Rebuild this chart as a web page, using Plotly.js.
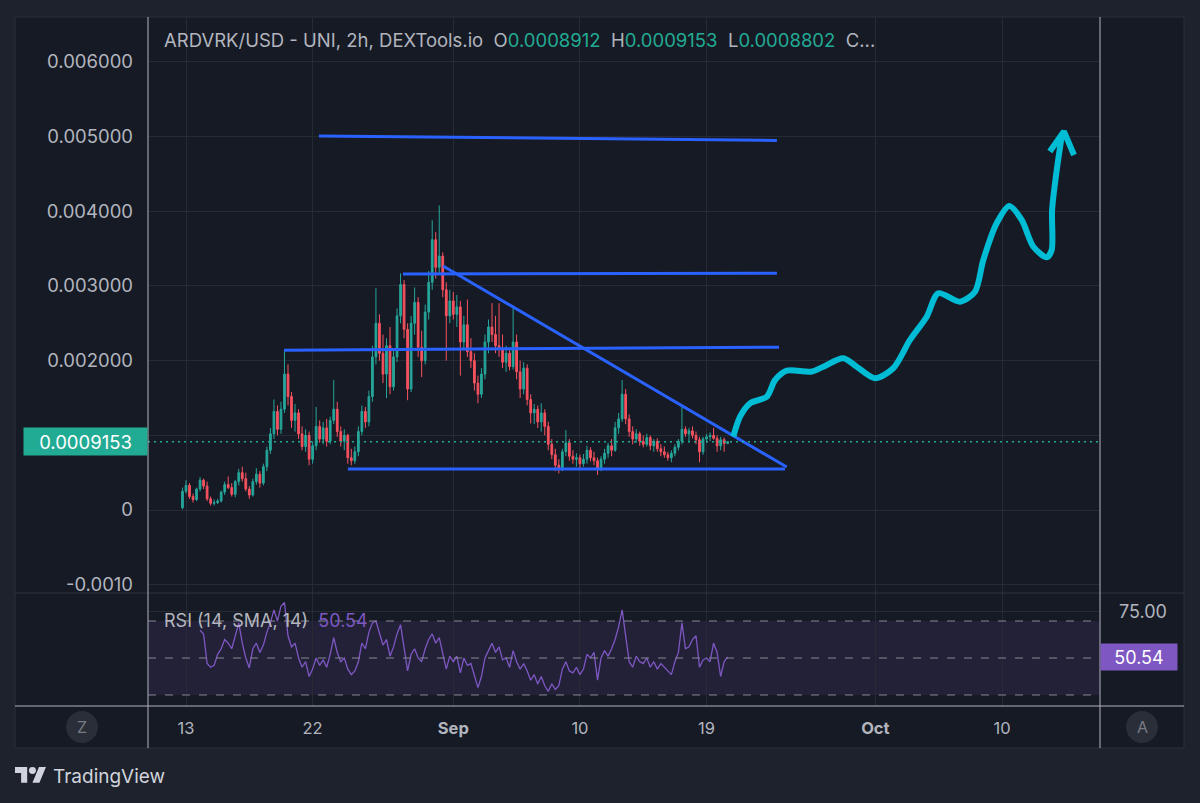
<!DOCTYPE html>
<html><head><meta charset="utf-8">
<script src="https://cdn.plot.ly/plotly-3.0.1.min.js"></script>
<style>html,body{margin:0;padding:0;background:#1e222d;overflow:hidden}#chart{width:1200px;height:803px}</style>
</head><body><div id="chart"></div>
<script>
// ---------- DATA ----------
// 6h candles, first candle Aug 12 18:00 (day offset -0.25 from Aug 13, 2024)
const candleFirstDay = -0.25;
const candleStepDays = 0.25;
const openPrices = [
0.00003,0.00025,0.00033,0.00018,0.00014,0.00028,0.00040,0.00032,0.00015,0.00009,
0.00010,0.00012,0.00024,0.00034,0.00030,0.00021,0.00038,0.00050,0.00042,0.00028,
0.00020,0.00038,0.00048,0.00036,0.00058,0.00080,0.00102,0.00132,0.00108,0.00135,
0.00182,0.00152,0.00120,0.00130,0.00102,0.00085,0.00100,0.00068,0.00086,0.00112,
0.00095,0.00110,0.00092,0.00120,0.00135,0.00105,0.00092,0.00100,0.00070,0.00066,
0.00078,0.00105,0.00132,0.00118,0.00152,0.00205,0.00250,0.00210,0.00182,0.00220,
0.00165,0.00205,0.00260,0.00302,0.00242,0.00162,0.00250,0.00278,0.00218,0.00200,
0.00265,0.00305,0.00362,0.00325,0.00340,0.00295,0.00260,0.00280,0.00262,0.00272,
0.00225,0.00248,0.00212,0.00200,0.00170,0.00155,0.00182,0.00225,0.00245,0.00235,
0.00220,0.00215,0.00198,0.00210,0.00192,0.00225,0.00185,0.00162,0.00190,0.00148,
0.00130,0.00135,0.00118,0.00130,0.00112,0.00088,0.00074,0.00060,0.00056,0.00078,
0.00090,0.00072,0.00068,0.00070,0.00062,0.00068,0.00080,0.00070,0.00066,0.00055,
0.00068,0.00076,0.00086,0.00080,0.00110,0.00122,0.00155,0.00122,0.00105,0.00095,
0.00102,0.00092,0.00088,0.00097,0.00086,0.00092,0.00082,0.00078,0.00074,0.00070,
0.00076,0.00084,0.00092,0.00108,0.00102,0.00106,0.00100,0.00094,0.00078,0.00095,
0.00098,0.00100,0.00096,0.00086,0.00094,0.0008912];
const highPrices = [
0.00030,0.00040,0.00036,0.00022,0.00030,0.00044,0.00042,0.00038,0.00018,0.00014,
0.00015,0.00026,0.00038,0.00045,0.00036,0.00040,0.00055,0.00058,0.00050,0.00032,
0.00042,0.00056,0.00052,0.00062,0.00085,0.00110,0.00148,0.00140,0.00145,0.00215,
0.00195,0.00158,0.00142,0.00135,0.00112,0.00108,0.00105,0.00092,0.00138,0.00120,
0.00118,0.00122,0.00125,0.00174,0.00145,0.00112,0.00108,0.00102,0.00082,0.00085,
0.00112,0.00140,0.00138,0.00160,0.00220,0.00297,0.00262,0.00235,0.00230,0.00245,
0.00215,0.00270,0.00317,0.00308,0.00250,0.00260,0.00298,0.00285,0.00240,0.00275,
0.00320,0.00388,0.00372,0.00408,0.00345,0.00305,0.00295,0.00292,0.00288,0.00280,
0.00260,0.00282,0.00230,0.00210,0.00180,0.00190,0.00235,0.00255,0.00277,0.00260,
0.00277,0.00235,0.00220,0.00215,0.00274,0.00235,0.00200,0.00198,0.00195,0.00155,
0.00142,0.00140,0.00143,0.00135,0.00118,0.00095,0.00082,0.00068,0.00082,0.00107,
0.00095,0.00080,0.00076,0.00074,0.00075,0.00086,0.00084,0.00078,0.00070,0.00072,
0.00082,0.00090,0.00095,0.00118,0.00130,0.00174,0.00162,0.00128,0.00112,0.00108,
0.00105,0.00100,0.00102,0.00100,0.00095,0.00096,0.00088,0.00085,0.00078,0.00080,
0.00088,0.00095,0.00138,0.00112,0.00110,0.00112,0.00105,0.00098,0.00098,0.00102,
0.00104,0.00110,0.00100,0.00098,0.00097,0.0009153];
const lowPrices = [
0.00001,0.00022,0.00015,0.00010,0.00012,0.00025,0.00028,0.00012,0.00006,0.00006,
0.00008,0.00010,0.00020,0.00028,0.00018,0.00017,0.00033,0.00038,0.00025,0.00015,
0.00018,0.00034,0.00030,0.00033,0.00052,0.00075,0.00095,0.00100,0.00102,0.00130,
0.00140,0.00110,0.00105,0.00095,0.00080,0.00078,0.00060,0.00062,0.00080,0.00090,
0.00088,0.00085,0.00088,0.00115,0.00098,0.00085,0.00080,0.00062,0.00060,0.00062,
0.00072,0.00100,0.00110,0.00112,0.00145,0.00195,0.00200,0.00170,0.00150,0.00155,
0.00160,0.00198,0.00250,0.00230,0.00147,0.00158,0.00235,0.00205,0.00178,0.00195,
0.00255,0.00295,0.00310,0.00315,0.00285,0.00200,0.00250,0.00255,0.00245,0.00180,
0.00215,0.00205,0.00190,0.00160,0.00143,0.00150,0.00175,0.00210,0.00225,0.00210,
0.00205,0.00190,0.00185,0.00187,0.00188,0.00175,0.00150,0.00155,0.00140,0.00116,
0.00115,0.00110,0.00105,0.00100,0.00080,0.00068,0.00052,0.00049,0.00052,0.00072,
0.00066,0.00062,0.00058,0.00056,0.00058,0.00062,0.00065,0.00060,0.00047,0.00052,
0.00062,0.00070,0.00072,0.00078,0.00102,0.00118,0.00115,0.00098,0.00088,0.00090,
0.00086,0.00084,0.00085,0.00080,0.00078,0.00078,0.00072,0.00070,0.00066,0.00064,
0.00072,0.00080,0.00088,0.00098,0.00092,0.00096,0.00088,0.00064,0.00074,0.00090,
0.00092,0.00094,0.00078,0.00080,0.00078,0.0008802];
const closePrices = [
0.00025,0.00033,0.00018,0.00014,0.00028,0.00040,0.00032,0.00015,0.00009,0.00010,
0.00012,0.00024,0.00034,0.00030,0.00021,0.00038,0.00050,0.00042,0.00028,0.00020,
0.00038,0.00048,0.00036,0.00058,0.00080,0.00102,0.00132,0.00108,0.00135,0.00182,
0.00152,0.00120,0.00130,0.00102,0.00085,0.00100,0.00068,0.00086,0.00112,0.00095,
0.00110,0.00092,0.00120,0.00135,0.00105,0.00092,0.00100,0.00070,0.00066,0.00078,
0.00105,0.00132,0.00118,0.00152,0.00205,0.00250,0.00210,0.00182,0.00220,0.00165,
0.00205,0.00260,0.00302,0.00242,0.00162,0.00250,0.00278,0.00218,0.00200,0.00265,
0.00305,0.00362,0.00325,0.00340,0.00295,0.00260,0.00280,0.00262,0.00272,0.00225,
0.00248,0.00212,0.00200,0.00170,0.00155,0.00182,0.00225,0.00245,0.00235,0.00220,
0.00215,0.00198,0.00210,0.00192,0.00225,0.00185,0.00162,0.00190,0.00148,0.00130,
0.00135,0.00118,0.00130,0.00112,0.00088,0.00074,0.00060,0.00056,0.00078,0.00090,
0.00072,0.00068,0.00070,0.00062,0.00068,0.00080,0.00070,0.00066,0.00055,0.00068,
0.00076,0.00086,0.00080,0.00110,0.00122,0.00155,0.00122,0.00105,0.00095,0.00102,
0.00092,0.00088,0.00097,0.00086,0.00092,0.00082,0.00078,0.00074,0.00070,0.00076,
0.00084,0.00092,0.00108,0.00102,0.00106,0.00100,0.00094,0.00078,0.00095,0.00098,
0.00100,0.00096,0.00086,0.00094,0.0008912,0.0009153];
const rsiValues = [
null,null,null,null,null,65,63,47,45,46,
52,55,60,58,55,62,69,58,50,44.6,
55,58,53,57,64,69,76,70,78,80,
62,56,58,50,45,48,40,44,50,46,
49,45,52,61,53,48,50,44,41,43,
48,58,55,64,69,70,64,57,60,51,
56,63,68,55,43,52,55,50,48,55,
60,63,58,61,52,44,51,48,51,42,
50,46,47,40,34,40,50,54,58,53,
56,49,50,45,54,48,44,47,43,38,
41,36,40,35,32,36,33,35,44,48,
43,42,45,41,44,52,50,53,38,50,
54,51,55,60,67,76,62,48,45,51,
48,47,50,45,48,44,47,45,43,41,
48,53,69,55,56,60,62,45,49,50,
48,58,53,40,48,50.54];
const lastPrice = 0.0009153;
const lastRsi = 50.54;
const rsiBandLevels = [70, 50, 30];
const rsiGridLevels = [75];

// axis ticks
const xTickDays = [0, 9, 19, 28, 37, 49, 58];
const xTickLabels = ['13', '22', '<b>Sep</b>', '10', '19', '<b>Oct</b>', '10'];
const yTickValues = [-0.001, 0, 0.001, 0.002, 0.003, 0.004, 0.005, 0.006];
const yTickLabels = ['-0.0010', '0', '', '0.002000', '0.003000', '0.004000', '0.005000', '0.006000'];

// drawn trend / level lines (day offset from Aug 13, price)
const lineStartDay   = [9.45, 15.42, 6.97, 18.27, 11.51];
const lineEndDay     = [42.0, 42.0, 42.15, 42.7, 42.57];
const lineStartPrice = [0.00501, 0.00316, 0.00214, 0.003268, 0.000549];
const lineEndPrice   = [0.00495, 0.00317, 0.00218, 0.000576, 0.000549];

// hand-drawn projection arrow
const arrowDay = [38.90,39.38,40.09,41.28,41.87,42.70,44.41,45.30,46.72,47.67,48.97,50.27,51.46,52.65,53.47,55.01,56.08,56.67,57.62,58.52,59.40,60.23,61.18,61.53,61.56,61.89,62.24];
const arrowPrice = [0.000982,0.00125,0.001429,0.001517,0.001741,0.001866,0.001852,0.001919,0.002032,0.001919,0.001764,0.001898,0.002277,0.002589,0.002902,0.00279,0.002924,0.003348,0.00384,0.004071,0.003884,0.003526,0.003384,0.003482,0.004018,0.004553,0.004999];
const arrowHeadDay = [61.40, 62.40, 63.12];
const arrowHeadPrice = [0.004800, 0.005070, 0.004754];

// ---------- BUILD ----------
const dayMs = 86400000;
const baseDay = Date.UTC(2024, 7, 13);
const toDate = d => new Date(baseDay + d * dayMs).toISOString().slice(0, 19).replace('T', ' ');
const times = closePrices.map((_, i) => toDate(candleFirstDay + candleStepDays * i));

const FONT = 'Inter, "Noto Sans", "Open Sans", sans-serif';
const TXT = '#b2b5be';
const GRID = '#262a35';
const BG = '#161a25';

// pixel -> paper helpers (layout only)
const PL = 148, PR = 1100, PT = 17, PB = 706;
const px = x => (x - PL) / (PR - PL);
const py = y => (PB - y) / (PB - PT);
const split = py(593);

const traces = [];
traces.push({
  type: 'candlestick', x: times, open: openPrices, high: highPrices, low: lowPrices, close: closePrices,
  xaxis: 'x', yaxis: 'y', whiskerwidth: 0, hoverinfo: 'skip', showlegend: false,
  increasing: {line: {color: '#26a69a', width: 1}, fillcolor: '#26a69a'},
  decreasing: {line: {color: '#f7525f', width: 1}, fillcolor: '#f7525f'}
});
for (let i = 0; i < lineStartDay.length; i++) {
  traces.push({
    type: 'scatter', mode: 'lines', x: [toDate(lineStartDay[i]), toDate(lineEndDay[i])],
    y: [lineStartPrice[i], lineEndPrice[i]], xaxis: 'x', yaxis: 'y',
    line: {color: '#2962ff', width: 3}, hoverinfo: 'skip', showlegend: false
  });
}
traces.push({
  type: 'scatter', mode: 'lines', x: arrowDay.map(toDate), y: arrowPrice, xaxis: 'x', yaxis: 'y',
  line: {color: '#00bcd4', width: 6, shape: 'spline', smoothing: 0.8}, hoverinfo: 'skip', showlegend: false
});
traces.push({
  type: 'scatter', mode: 'lines', x: arrowHeadDay.map(toDate), y: arrowHeadPrice, xaxis: 'x', yaxis: 'y',
  line: {color: '#00bcd4', width: 6}, hoverinfo: 'skip', showlegend: false
});
traces.push({
  type: 'scatter', mode: 'lines', x: times, y: rsiValues, xaxis: 'x', yaxis: 'y2',
  line: {color: '#7e57c2', width: 1.3}, hoverinfo: 'skip', showlegend: false, connectgaps: false
});

const shapes = [
  {type: 'rect', xref: 'paper', yref: 'paper', x0: px(15), x1: px(1184), y0: py(748), y1: py(17),
   fillcolor: BG, line: {color: '#2a2e39', width: 1}, layer: 'below'},
  {type: 'rect', xref: 'paper', yref: 'y2', x0: 0, x1: 1, y0: 30, y1: 70,
   fillcolor: 'rgba(126,87,194,0.12)', line: {width: 0}, layer: 'below'},
  {type: 'line', xref: 'paper', yref: 'y', x0: 0, x1: 1, y0: lastPrice, y1: lastPrice,
   line: {color: '#22ab94', width: 1.5, dash: '2px,4px'}},
  {type: 'line', xref: 'paper', yref: 'paper', x0: px(15), x1: px(1184), y0: split, y1: split,
   line: {color: '#2e323d', width: 1}},
  {type: 'line', xref: 'paper', yref: 'paper', x0: px(15), x1: px(1184), y0: 0, y1: 0,
   line: {color: '#b2b5be', width: 1}},
  {type: 'line', xref: 'paper', yref: 'paper', x0: 0, x1: 0, y0: py(748), y1: 1,
   line: {color: '#b2b5be', width: 1}},
  {type: 'line', xref: 'paper', yref: 'paper', x0: 1, x1: 1, y0: py(748), y1: 1,
   line: {color: '#b2b5be', width: 1}},
  {type: 'circle', xref: 'paper', yref: 'paper', x0: px(66), x1: px(98), y0: py(743), y1: py(711),
   fillcolor: '#2a2e39', line: {width: 0}},
  {type: 'circle', xref: 'paper', yref: 'paper', x0: px(1126), x1: px(1158), y0: py(743), y1: py(711),
   fillcolor: '#2a2e39', line: {width: 0}}
];
rsiBandLevels.forEach(v => shapes.push({
  type: 'line', xref: 'paper', yref: 'y2', x0: 0, x1: 1, y0: v, y1: v,
  line: {color: '#868993', width: 1, dash: '8px,9px'}
}));

const teal = s => '<span style="color:#22ab94">' + s + '</span>';
const sp = '\u00A0\u00A0';
const annotations = [
  {xref: 'paper', yref: 'paper', x: px(162), y: py(40), xanchor: 'left', yanchor: 'middle', showarrow: false,
   text: 'ARDVRK/USD - UNI, 2h, DEXTools.io' + sp + 'O' + teal(openPrices[openPrices.length - 1].toFixed(7)) +
     sp + 'H' + teal(highPrices[highPrices.length - 1].toFixed(7)) + sp + 'L' + teal(lowPrices[lowPrices.length - 1].toFixed(7)) + sp + 'C...',
   font: {family: FONT, size: 18.5, color: TXT}},
  {xref: 'paper', yref: 'paper', x: px(162), y: py(620), xanchor: 'left', yanchor: 'middle', showarrow: false,
   text: 'RSI (14, SMA, 14)' + sp + '<span style="color:#7e57c2">' + lastRsi.toFixed(2) + '</span>',
   font: {family: FONT, size: 18, color: TXT}},
  {xref: 'paper', yref: 'y', x: 0, y: lastPrice, xanchor: 'right', yanchor: 'middle', showarrow: false,
   text: lastPrice.toFixed(7), bgcolor: '#22ab94', width: 121, height: 25, borderpad: 1, align: 'center',
   font: {family: FONT, size: 18.5, color: '#ffffff'}},
  {xref: 'paper', yref: 'y2', x: 1, y: lastRsi, xanchor: 'left', yanchor: 'middle', showarrow: false,
   text: lastRsi.toFixed(2), bgcolor: '#7e57c2', width: 74, height: 24, borderpad: 1, align: 'center',
   font: {family: FONT, size: 18, color: '#ffffff'}},
  {xref: 'paper', yref: 'y2', x: px(1143), y: rsiGridLevels[0], xanchor: 'center', yanchor: 'middle', showarrow: false,
   text: rsiGridLevels[0].toFixed(2), font: {family: FONT, size: 18, color: TXT}},
  {xref: 'paper', yref: 'paper', x: px(82), y: py(727), xanchor: 'center', yanchor: 'middle', showarrow: false,
   text: 'Z', font: {family: FONT, size: 16, color: '#787b86'}},
  {xref: 'paper', yref: 'paper', x: px(1142), y: py(727), xanchor: 'center', yanchor: 'middle', showarrow: false,
   text: 'A', font: {family: FONT, size: 16, color: '#787b86'}},
  {xref: 'paper', yref: 'paper', x: px(51), y: py(776), xanchor: 'left', yanchor: 'middle', showarrow: false,
   text: 'TradingView', font: {family: FONT, size: 19, color: '#d1d4dc'}}
];

const logoSvg = "<svg xmlns='http://www.w3.org/2000/svg' width='36' height='28' viewBox='0 0 36 28'><path fill='#d1d4dc' d='M14 22H7V11H0V4h14v18zM28 22h-8l7.5-18h8L28 22z'/><circle fill='#d1d4dc' cx='20' cy='8' r='4'/></svg>";
const images = [{
  source: 'data:image/svg+xml;charset=utf-8,' + encodeURIComponent(logoSvg),
  xref: 'paper', yref: 'paper', x: px(15), y: py(763.5), sizex: 31.4 / (PR - PL), sizey: 24.4 / (PB - PT),
  xanchor: 'left', yanchor: 'top', sizing: 'stretch', layer: 'above'
}];

const layout = {
  width: 1200, height: 803,
  margin: {l: PL, r: 1200 - PR, t: PT, b: 803 - PB, pad: 0},
  paper_bgcolor: '#1e222d', plot_bgcolor: BG,
  showlegend: false, hovermode: false, dragmode: false,
  font: {family: FONT, color: TXT},
  xaxis: {
    type: 'date', anchor: 'y2', range: [toDate(-2.701), toDate(64.965)],
    tickvals: xTickDays.map(toDate), ticktext: xTickLabels, tickfont: {family: FONT, size: 16.5, color: TXT},
    showgrid: true, gridcolor: GRID, gridwidth: 1, zeroline: false, showline: false, ticks: '',
    ticklabelstandoff: 10, rangeslider: {visible: false}, fixedrange: true
  },
  yaxis: {
    domain: [split, 1], range: [-0.0011116, 0.0066024], tickvals: yTickValues, ticktext: yTickLabels,
    tickfont: {family: FONT, size: 18.5, color: TXT}, side: 'left', showgrid: true, gridcolor: GRID,
    zeroline: false, showline: false, ticks: '', ticklabelstandoff: 14, fixedrange: true
  },
  yaxis2: {
    domain: [0, split], range: [24.05, 85.14], tickvals: rsiGridLevels, showticklabels: false,
    showgrid: true, gridcolor: GRID, zeroline: false, showline: false, ticks: '', fixedrange: true
  },
  shapes: shapes, annotations: annotations, images: images
};

Plotly.newPlot('chart', traces, layout, {displayModeBar: false, staticPlot: true});
</script>
</body></html>
